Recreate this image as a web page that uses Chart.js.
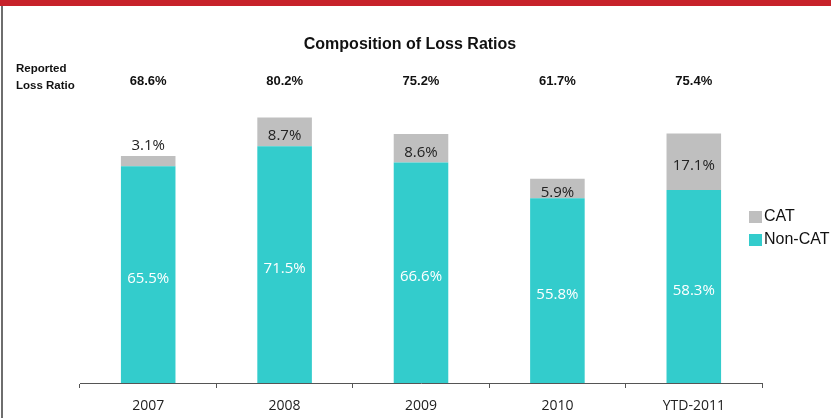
<!DOCTYPE html>
<html>
<head>
<meta charset="utf-8">
<script src="https://cdn.jsdelivr.net/npm/chart.js@4/dist/chart.umd.min.js"></script>
<style>
    html, body { margin: 0; padding: 0; background: #fff; }
    #wrap { position: relative; width: 831px; height: 418px; }
</style>
</head>
<body>
<div id="wrap"><canvas id="lossChart" width="831" height="418"></canvas></div>
<script>
    "use strict";

    // loss ratio composition per year (percent)
    var categories = ['2007', '2008', '2009', '2010', 'YTD-2011'];
    var nonCatValues = [65.5, 71.5, 66.6, 55.8, 58.3];
    var catValues = [3.1, 8.7, 8.6, 5.9, 17.1];
    var seriesNames = ['Non-CAT', 'CAT'];
    var seriesColors = ['#33CCCC', '#BFBFBF'];

    var titleText = 'Composition of Loss Ratios';
    var headerLines = ['Reported', 'Loss Ratio'];

    function pct(v) {
        return v.toFixed(1) + '%';
    }

    // header, totals row, bar labels, legend and page frame
    var decorations = {
        id: 'decorations',
        beforeDraw: function(chart) {
            var ctx = chart.ctx;
            ctx.save();
            ctx.fillStyle = '#fff';
            ctx.fillRect(0, 0, chart.width, chart.height);
            ctx.restore();
        },
        afterDatasetsDraw: function(chart) {
            var ctx = chart.ctx;
            var nonMeta = chart.getDatasetMeta(0);
            var catMeta = chart.getDatasetMeta(1);

            ctx.save();
            ctx.textAlign = 'center';
            ctx.textBaseline = 'middle';
            ctx.font = '15px "Open Sans", sans-serif';

            nonMeta.data.forEach(function(bar, i) {
                ctx.fillStyle = '#fff';
                ctx.fillText(pct(nonCatValues[i]), bar.x, (bar.y + bar.base) / 2 + 4);
            });

            catMeta.data.forEach(function(bar, i) {
                var h = bar.base - bar.y;
                var y = h < 18 ? bar.y - 10 : (bar.y + bar.base) / 2 + 4;
                ctx.fillStyle = '#222';
                ctx.fillText(pct(catValues[i]), bar.x, y);
            });
            ctx.restore();
        },
        afterDraw: function(chart) {
            var ctx = chart.ctx;
            var xScale = chart.scales.x;

            ctx.save();
            // red band and left rule
            ctx.fillStyle = '#C7222A';
            ctx.fillRect(0, 0, chart.width, 6);
            ctx.fillStyle = '#6e6e6e';
            ctx.fillRect(1, 6, 2, chart.height - 6);

            ctx.fillStyle = '#111';
            ctx.textBaseline = 'middle';
            ctx.textAlign = 'center';
            ctx.font = 'bold 16px "Liberation Sans", Arial, sans-serif';
            ctx.fillText(titleText, 410, 45);

            ctx.textAlign = 'left';
            ctx.font = 'bold 11.5px "Liberation Sans", Arial, sans-serif';
            ctx.fillText(headerLines[0], 16, 69);
            ctx.fillText(headerLines[1], 16, 86);

            ctx.textAlign = 'center';
            ctx.font = 'bold 13px "Liberation Sans", Arial, sans-serif';
            categories.forEach(function(c, i) {
                var total = nonCatValues[i] + catValues[i];
                ctx.fillText(pct(total), xScale.getPixelForValue(i), 81);
            });

            // legend, top entry is the upper stack
            ctx.textAlign = 'left';
            ctx.font = '16px "Liberation Sans", Arial, sans-serif';
            var entries = [1, 0];
            entries.forEach(function(d, k) {
                var y = 211 + k * 23;
                ctx.fillStyle = seriesColors[d];
                ctx.fillRect(749, y, 13, 12);
                ctx.fillStyle = '#111';
                ctx.fillText(seriesNames[d], 764, y + 6);
            });
            ctx.restore();
        }
    };

    var ctx = document.getElementById('lossChart');
    var lossChart = new Chart(ctx, {
        type: 'bar',
        data: {
            labels: categories,
            datasets: [
                {
                    label: seriesNames[0],
                    data: nonCatValues,
                    backgroundColor: seriesColors[0],
                    stack: 'loss'
                },
                {
                    label: seriesNames[1],
                    data: catValues,
                    backgroundColor: seriesColors[1],
                    stack: 'loss'
                }
            ]
        },
        options: {
            responsive: false,
            animation: false,
            devicePixelRatio: 1,
            layout: {
                padding: { top: 52, left: 80, right: 69, bottom: 0 }
            },
            datasets: {
                bar: { categoryPercentage: 1, barPercentage: 0.4 }
            },
            plugins: {
                legend: { display: false },
                title: { display: false },
                tooltip: { enabled: false }
            },
            scales: {
                x: {
                    stacked: true,
                    afterFit: function(scale) { scale.height = 35; },
                    border: { display: true, color: '#555', width: 1 },
                    grid: {
                        offset: true,
                        drawOnChartArea: false,
                        drawTicks: true,
                        tickLength: 5,
                        color: '#555'
                    },
                    ticks: {
                        color: '#222',
                        padding: 10,
                        font: { family: '"Open Sans", sans-serif', size: 14 }
                    }
                },
                y: {
                    stacked: true,
                    display: false,
                    min: 0,
                    max: 100
                }
            }
        },
        plugins: [decorations]
    });
</script>
</body>
</html>
